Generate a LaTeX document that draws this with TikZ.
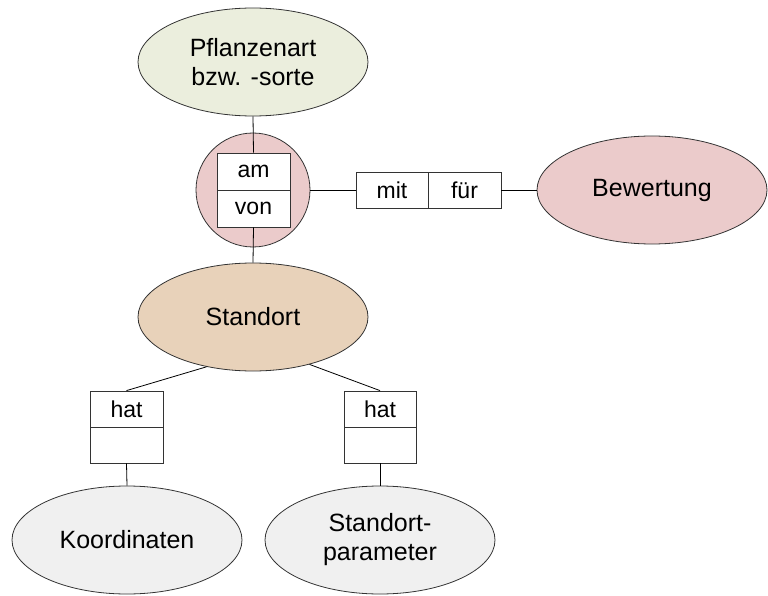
\documentclass[tikz,border=0pt]{standalone}
\usepackage{fontspec}
\setmainfont{Liberation Sans}
\usetikzlibrary{shapes.geometric}
\definecolor{cgreen}{HTML}{EBEEDD}
\definecolor{cpink}{HTML}{EBCBCB}
\definecolor{ctan}{HTML}{E8D2BA}
\definecolor{cgrey}{HTML}{F0F0F0}
\tikzset{
  ent/.style={ellipse, draw=black!80, line width=0.8pt, minimum width=230pt, minimum height=108pt, inner sep=0pt, align=center, font=\fontsize{25}{29}\selectfont},
  lbl/.style={rectangle, draw=black!80, fill=white, line width=0.8pt, inner sep=0pt, font=\fontsize{23}{27}\selectfont},
  conn/.style={draw=black, line width=0.8pt}
}
\begin{document}
\begin{tikzpicture}[x=1pt,y=-1pt]
\useasboundingbox (0,0) rectangle (768,596);
% entities
\node[ent, fill=cgreen] (pfl) at (253,62) {Pflanzenart\\bzw. -sorte};
\node[ent, fill=cpink] (bew) at (652,190) {Bewertung};
\node[ent, fill=ctan] (std) at (253,317) {Standort};
\node[ent, fill=cgrey] (koo) at (127,540) {Koordinaten};
\node[ent, fill=cgrey] (par) at (380,540) {Standort-\\parameter};
% relation circle
\node[circle, draw=black!80, fill=cpink, line width=0.8pt, minimum size=114pt, inner sep=0pt] (rel) at (253,190) {};
% labels
\node[lbl, minimum width=73pt, minimum height=37pt] (am) at (253.5,171.5) {am};
\node[lbl, minimum width=73pt, minimum height=37pt] (von) at (253.5,208.5) {von};
\node[lbl, minimum width=72pt, minimum height=36pt] (mit) at (392,190) {mit};
\node[lbl, minimum width=73pt, minimum height=36pt] (fuer) at (464.5,190) {für};
\node[lbl, minimum width=73pt, minimum height=36pt] (hatA) at (126.5,409) {hat};
\node[lbl, minimum width=73pt, minimum height=36pt] (hatAb) at (126.5,445) {};
\node[lbl, minimum width=72pt, minimum height=36pt] (hatB) at (380,409) {hat};
\node[lbl, minimum width=72pt, minimum height=36pt] (hatBb) at (380,445) {};
% connectors
\draw[conn] (pfl.south) -- (am.north);
\draw[conn] (von.south) -- (std.north);
\draw[conn] (rel.east) -- (mit.west);
\draw[conn] (fuer.east) -- (bew.west);
\draw[conn] (std.227) -- (hatA.north);
\draw[conn] (std.-40) -- (hatB.north);
\draw[conn] (hatAb.south) -- (koo.north);
\draw[conn] (hatBb.south) -- (par.north);
\end{tikzpicture}
\end{document}
